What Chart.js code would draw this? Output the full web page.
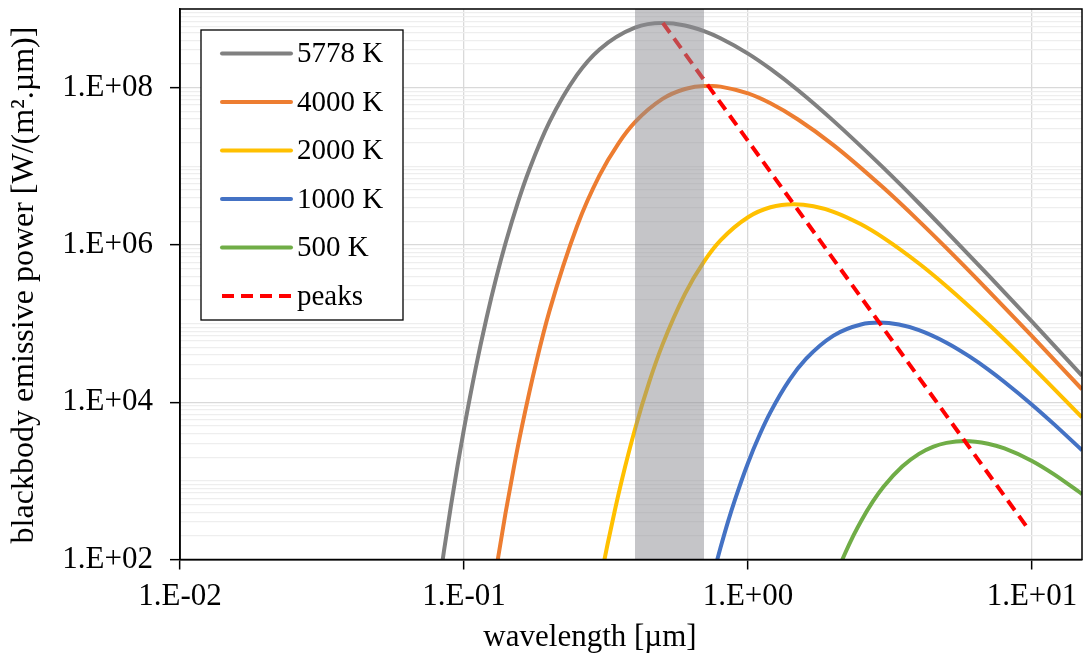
<!DOCTYPE html>
<html>
<head>
<meta charset="utf-8">
<script src="https://cdn.jsdelivr.net/npm/chart.js@4.4.1/dist/chart.umd.min.js"></script>
<style>
    html, body { margin: 0; padding: 0; background: #fff; }
    #wrap { width: 1083px; height: 658px; }
</style>
</head>
<body>
<div id="wrap"><canvas id="bbChart" width="1083" height="658"></canvas></div>
<script>
// --- Data: wavelength [um] / emissive power [W/(m2.um)] ---
const wl5778 = [0.08, 0.085, 0.09, 0.095, 0.1, 0.11, 0.12, 0.13, 0.14, 0.155, 0.17, 0.2, 0.25, 0.3, 0.4, 0.5, 0.6, 0.7, 0.8, 1, 1.2, 1.5, 2, 3, 4, 5, 7, 10, 15];
const e5778  = [27.7, 128, 488, 1600, 4590, 2.74e4, 1.17e5, 3.87e5, 1.05e6, 3.53e6, 9.17e6, 3.66e7, 1.45e8, 3.06e8, 5.80e8, 6.63e8, 6.17e8, 5.23e8, 4.25e8, 2.71e8, 1.73e8, 9.26e7, 3.78e7, 9.53e6, 3.39e6, 1.48e6, 4.17e5, 1.06e5, 2.18e4];

const wl4000 = [0.12, 0.13, 0.14, 0.15, 0.16, 0.18, 0.2, 0.25, 0.3, 0.35, 0.4, 0.5, 0.6, 0.7, 0.75, 0.8, 1, 1.2, 1.5, 2, 3, 4, 5, 7, 10, 15];
const e4000  = [11.5, 77.5, 387, 1520, 4920, 3.32e4, 1.45e5, 1.73e6, 7.65e6, 1.96e7, 3.64e7, 7.20e7, 9.62e7, 1.051e8, 1.051e8, 1.031e8, 8.44e7, 6.32e7, 3.94e7, 1.86e7, 5.32e6, 2.01e6, 9.10e5, 2.65e5, 6.92e4, 1.46e4];

const wl2000 = [0.3, 0.31, 0.32, 0.34, 0.36, 0.4, 0.45, 0.5, 0.6, 0.7, 0.8, 1, 1.2, 1.45, 1.7, 2, 2.5, 3, 4, 5, 7, 10, 15];
const e2000  = [47.5, 87.4, 154, 426, 1040, 4520, 1.85e4, 5.40e4, 2.39e5, 6.13e5, 1.14e6, 2.25e6, 3.01e6, 3.29e6, 3.11e6, 2.64e6, 1.83e6, 1.23e6, 5.80e5, 2.98e5, 9.93e4, 2.84e4, 6410];

const wl1000 = [0.75, 0.78, 0.8, 0.85, 0.9, 1, 1.1, 1.2, 1.4, 1.6, 2, 2.5, 2.9, 3.4, 4, 5, 6, 7, 8, 10, 12, 15];
const e1000  = [58.8, 101, 141, 301, 578, 1690, 3880, 7470, 1.92e4, 3.55e4, 7.03e4, 9.74e4, 1.029e5, 9.71e4, 8.24e4, 5.71e4, 3.85e4, 2.62e4, 1.81e4, 9310, 5190, 2450];

const wl500 = [2, 2.1, 2.2, 2.35, 2.5, 2.75, 3, 3.5, 4, 4.5, 5, 5.8, 7, 8, 10, 12, 15];
const e500  = [52.8, 82, 121, 201, 307, 543, 841, 1530, 2200, 2720, 3040, 3220, 2970, 2580, 1790, 1200, 679];

// Wien peak line (end points)
const peakWl = [0.5016, 9.66];
const peakE  = [6.63e8, 250];

// visible band
const visibleWl = [0.4, 0.7];

// --- Axes ---
const xMin = 0.01, xMax = 15;
const yMin = 100, yMax = 1e9;
const xTickValues = [0.01, 0.1, 1, 10];
const xTickLabels = ['1.E-02', '1.E-01', '1.E+00', '1.E+01'];
const yTickValues = [1e2, 1e4, 1e6, 1e8];
const yTickLabels = ['1.E+02', '1.E+04', '1.E+06', '1.E+08'];

const FONT = '"Liberation Serif", "Times New Roman", serif';

// minor horizontal grid (2..9 x 10^n)
const yGrid = [];
for (let p = 2; p < 9; p++) {
    for (let k = 1; k < 10; k++) yGrid.push(k * Math.pow(10, p));
}
yGrid.push(yMax);

function pts(xs, ys) {
    return xs.map((x, i) => ({ x: x, y: ys[i] }));
}

function curve(label, xs, ys, color) {
    return {
        label: label,
        data: pts(xs, ys),
        borderColor: color,
        backgroundColor: color,
        borderWidth: 4,
        pointRadius: 0,
        cubicInterpolationMode: 'monotone',
        fill: false,
        clip: 0,
        order: 2,
        inLegend: true
    };
}

// --- Plugins: frame, titles, boxed legend ---
const framePlugin = {
    id: 'frame',
    afterDatasetsDraw(chart) {
        const a = chart.chartArea, ctx = chart.ctx;
        ctx.save();
        ctx.strokeStyle = '#000';
        ctx.lineWidth = 1.5;
        ctx.strokeRect(a.left, a.top, a.right - a.left, a.bottom - a.top);
        ctx.restore();
    }
};

const titlePlugin = {
    id: 'axisTitles',
    afterDraw(chart) {
        const ctx = chart.ctx;
        ctx.save();
        ctx.fillStyle = '#000';
        ctx.font = '31px ' + FONT;
        ctx.textAlign = 'center';
        ctx.textBaseline = 'alphabetic';
        ctx.fillText('wavelength [\u00b5m]', 590, 646);

        ctx.translate(33, 285);
        ctx.rotate(-Math.PI / 2);
        ctx.font = '32px ' + FONT;
        ctx.fillText('blackbody emissive power [W/(m\u00b2.\u00b5m)]', 0, 0);
        ctx.restore();
    }
};

const legendPlugin = {
    id: 'boxLegend',
    afterDraw(chart) {
        const ctx = chart.ctx;
        const x0 = 201, y0 = 30, w = 202, h = 290;
        const rowY = 53.5, step = 48.5;
        ctx.save();
        ctx.fillStyle = '#fff';
        ctx.fillRect(x0, y0, w, h);
        ctx.strokeStyle = '#000';
        ctx.lineWidth = 1.3;
        ctx.strokeRect(x0, y0, w, h);

        ctx.font = '29px ' + FONT;
        ctx.textBaseline = 'middle';
        ctx.textAlign = 'left';
        chart.data.datasets.filter(d => d.inLegend).forEach((d, i) => {
            const y = rowY + i * step;
            ctx.beginPath();
            ctx.strokeStyle = d.borderColor;
            ctx.lineWidth = 4;
            ctx.lineCap = d.borderDash ? 'butt' : 'round';
            ctx.setLineDash(d.borderDash || []);
            ctx.moveTo(222, y);
            ctx.lineTo(291, y);
            ctx.stroke();
            ctx.setLineDash([]);
            ctx.fillStyle = '#000';
            ctx.fillText(d.label, 297, y + 1);
        });
        ctx.restore();
    }
};

// --- Chart ---
function initChart() {
    const canvas = document.getElementById('bbChart');
    return new Chart(canvas.getContext('2d'), {
        type: 'line',
        data: {
            datasets: [
                curve('5778 K', wl5778, e5778, '#808080'),
                curve('4000 K', wl4000, e4000, '#ed7d31'),
                curve('2000 K', wl2000, e2000, '#ffc000'),
                curve('1000 K', wl1000, e1000, '#4472c4'),
                curve('500 K', wl500, e500, '#70ad47'),
                {
                    label: 'peaks',
                    data: pts(peakWl, peakE),
                    borderColor: '#ff0000',
                    borderWidth: 4,
                    borderDash: [12, 7],
                    pointRadius: 0,
                    fill: false,
                    clip: 0,
                    order: 1,
                    inLegend: true
                },
                {
                    label: 'visible',
                    data: pts(visibleWl, [yMax, yMax]),
                    borderWidth: 0,
                    borderColor: 'rgba(0,0,0,0)',
                    backgroundColor: 'rgba(140,140,145,0.5)',
                    pointRadius: 0,
                    fill: 'start',
                    clip: 0,
                    order: 0
                }
            ]
        },
        options: {
            responsive: false,
            devicePixelRatio: 1,
            animation: false,
            layout: { padding: { top: 9, right: 1, left: 0, bottom: 0 } },
            plugins: {
                legend: { display: false },
                tooltip: { enabled: false }
            },
            scales: {
                x: {
                    type: 'logarithmic',
                    position: 'bottom',
                    min: xMin,
                    max: xMax,
                    afterBuildTicks: s => { s.ticks = xTickValues.map(v => ({ value: v })); },
                    afterFit: s => { s.height = 98.5; s.paddingLeft = 0; s.paddingRight = 0; },
                    grid: {
                        color: '#d9d9d9',
                        lineWidth: 1.3,
                        tickLength: 10,
                        tickColor: '#000',
                        tickWidth: 1.5
                    },
                    border: { color: '#000', width: 1.5 },
                    ticks: {
                        autoSkip: false,
                        maxRotation: 0,
                        padding: 9,
                        color: '#000',
                        font: { family: FONT, size: 31 },
                        callback: (v, i) => xTickLabels[i]
                    }
                },
                y: {
                    type: 'logarithmic',
                    position: 'left',
                    min: yMin,
                    max: yMax,
                    afterBuildTicks: s => { s.ticks = yGrid.map(v => ({ value: v })); },
                    afterFit: s => { s.width = 180; s.paddingTop = 0; s.paddingBottom = 0; },
                    grid: {
                        color: ctx => yTickValues.includes(ctx.tick.value) ? '#d9d9d9' : '#eeeeee',
                        lineWidth: 1.3,
                        tickLength: 10,
                        tickColor: ctx => yTickValues.includes(ctx.tick.value) ? '#000' : 'rgba(0,0,0,0)',
                        tickWidth: 1.5
                    },
                    border: { color: '#000', width: 1.5 },
                    ticks: {
                        autoSkip: false,
                        padding: 17,
                        color: '#000',
                        font: { family: FONT, size: 31 },
                        callback: v => {
                            const i = yTickValues.indexOf(v);
                            return i >= 0 ? yTickLabels[i] : '';
                        }
                    }
                }
            }
        },
        plugins: [framePlugin, legendPlugin, titlePlugin]
    });
}

document.addEventListener('DOMContentLoaded', () => {
    try {
        initChart();
    } catch (e) {
        console.error('Chart init failed:', e);
    }
});
</script>
</body>
</html>
